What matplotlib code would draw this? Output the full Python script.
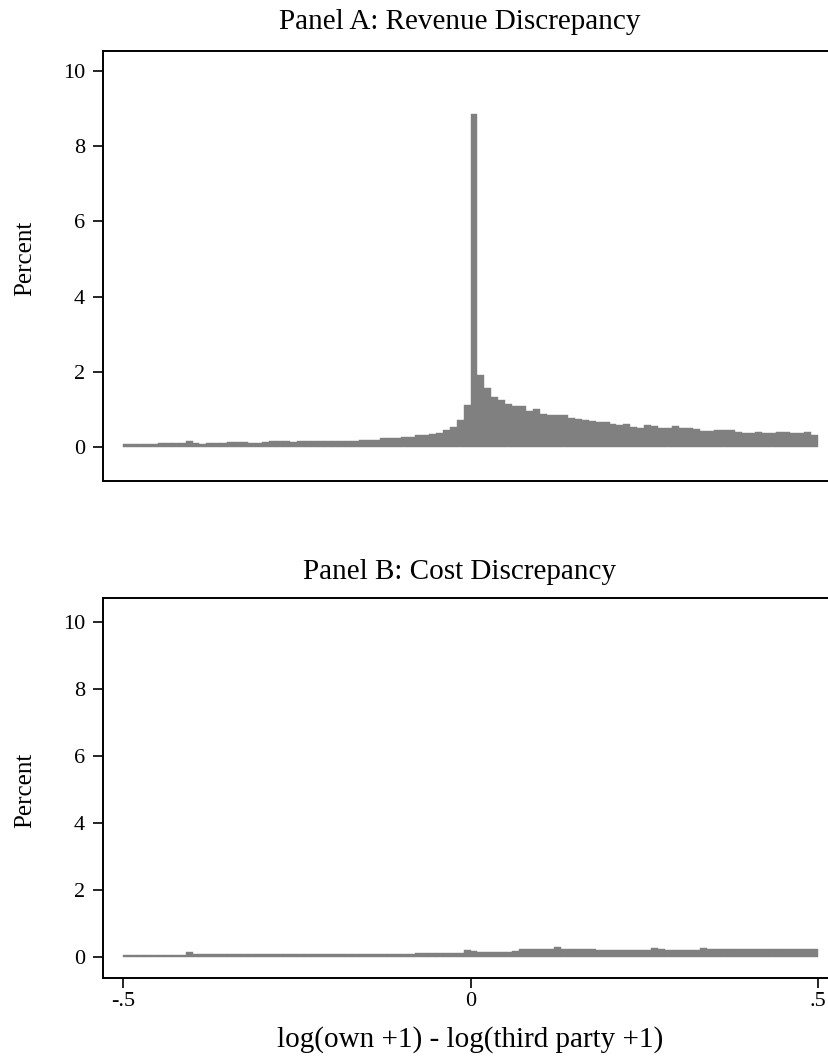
from matplotlib import pyplot as plt
import numpy as np

plt.rcParams['font.family'] = ['Liberation Serif', 'DejaVu Serif']

# histogram bins: width .01 from -.5 to .5
bin_left = np.round(np.arange(-0.5, 0.5, 0.01), 2)

revenue_pct = [
    0.08, 0.08, 0.09, 0.09, 0.09, 0.10, 0.10, 0.10, 0.10, 0.17,
    0.10, 0.09, 0.10, 0.11, 0.11, 0.12, 0.12, 0.12, 0.11, 0.11,
    0.12, 0.15, 0.15, 0.15, 0.14, 0.16, 0.16, 0.16, 0.15, 0.15,
    0.15, 0.15, 0.16, 0.17, 0.19, 0.19, 0.19, 0.23, 0.24, 0.24,
    0.27, 0.27, 0.31, 0.32, 0.35, 0.36, 0.44, 0.52, 0.73, 1.12,
    8.86, 1.91, 1.58, 1.33, 1.24, 1.15, 1.10, 1.08, 0.97, 1.02,
    0.89, 0.86, 0.85, 0.85, 0.78, 0.75, 0.71, 0.68, 0.67, 0.67,
    0.62, 0.59, 0.62, 0.53, 0.50, 0.59, 0.57, 0.51, 0.51, 0.57,
    0.50, 0.50, 0.48, 0.43, 0.43, 0.44, 0.45, 0.46, 0.41, 0.38,
    0.38, 0.40, 0.36, 0.36, 0.39, 0.39, 0.36, 0.36, 0.39, 0.32,
]

cost_pct = [
    0.07, 0.07, 0.07, 0.07, 0.07, 0.07, 0.07, 0.07, 0.07, 0.14,
    0.08, 0.08, 0.08, 0.08, 0.08, 0.08, 0.08, 0.08, 0.08, 0.08,
    0.08, 0.08, 0.08, 0.08, 0.08, 0.08, 0.08, 0.08, 0.09, 0.09,
    0.09, 0.10, 0.10, 0.10, 0.10, 0.10, 0.10, 0.10, 0.10, 0.10,
    0.10, 0.10, 0.11, 0.11, 0.11, 0.11, 0.12, 0.12, 0.12, 0.20,
    0.17, 0.155, 0.155, 0.155, 0.155, 0.155, 0.19, 0.24, 0.24, 0.24,
    0.24, 0.25, 0.30, 0.245, 0.245, 0.245, 0.245, 0.245, 0.20, 0.20,
    0.20, 0.20, 0.20, 0.20, 0.20, 0.20, 0.26, 0.24, 0.22, 0.22,
    0.22, 0.22, 0.22, 0.27, 0.245, 0.245, 0.245, 0.245, 0.245, 0.245,
    0.245, 0.245, 0.245, 0.245, 0.245, 0.245, 0.245, 0.245, 0.245, 0.245,
]

titles = ["Panel A: Revenue Discrepancy", "Panel B: Cost Discrepancy"]
ytick_vals = [0, 2, 4, 6, 8, 10]
xtick_vals = [-0.5, 0, 0.5]
xtick_labels = ["-.5", "0", ".5"]

W, H = 829, 1061
fig = plt.figure(figsize=(W / 100, H / 100), dpi=100)

def px(x0, y0, x1, y1):
    # pixel box -> figure fraction rect
    return [x0 / W, 1 - y1 / H, (x1 - x0) / W, (y1 - y0) / H]

axA = fig.add_axes(px(103, 51, 829, 481))
axB = fig.add_axes(px(103, 598, 829, 978))

gray = "#808080"
for ax, vals, ylim in [(axA, revenue_pct, (-0.904, 10.53)),
                       (axB, cost_pct, (-0.627, 10.716))]:
    ax.bar(bin_left, vals, width=0.01, align="edge", color=gray,
           edgecolor=gray, linewidth=0.3)
    ax.set_xlim(-0.5288, 0.5158)
    ax.set_ylim(*ylim)
    ax.set_yticks(ytick_vals)
    ax.set_yticklabels([str(v) for v in ytick_vals])
    ax.spines["right"].set_visible(False)
    for s in ["left", "top", "bottom"]:
        ax.spines[s].set_linewidth(1.4)
    ax.tick_params(axis="y", direction="out", length=7, width=1.2,
                   labelsize=16, pad=6)

axA.set_xticks([])
axB.set_xticks(xtick_vals)
axB.set_xticklabels(xtick_labels)
axB.tick_params(axis="x", direction="out", length=7, width=1.2,
                labelsize=16, pad=3)

fig.text(460 / W, 1 - 22 / H, titles[0], ha="center", va="center", fontsize=21)
fig.text(460 / W, 1 - 572 / H, titles[1], ha="center", va="center", fontsize=21)
fig.text(25 / W, 1 - 258 / H, "Percent", rotation=90, ha="center",
         va="center", fontsize=18)
fig.text(25 / W, 1 - 790 / H, "Percent", rotation=90, ha="center",
         va="center", fontsize=18)
fig.text(470 / W, 1 - 1040 / H, "log(own +1) - log(third party +1)",
         ha="center", va="center", fontsize=21)

fig.savefig("out.png", dpi=100)
